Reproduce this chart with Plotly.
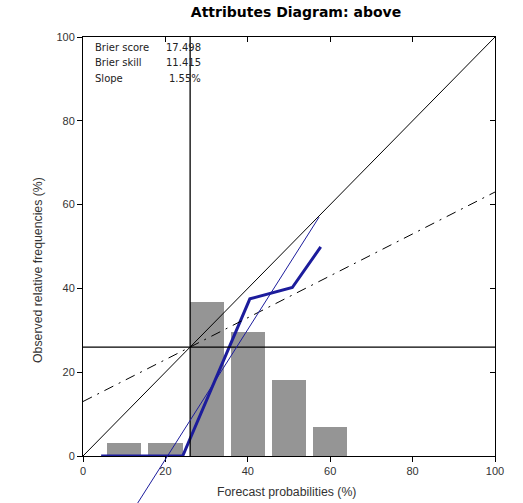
import plotly.graph_objects as go

# ---- data ----
bin_centers = [10, 20, 30, 40, 50, 60]
bin_freq = [3.1, 3.1, 36.7, 29.5, 18.2, 7.0]
rel_x = [4.4, 14.5, 24.2, 40.5, 50.8, 57.7]
rel_y = [0.0, 0.0, 0.0, 37.5, 40.2, 49.9]
climatology = 26.0
fit_slope = 1.55
fit_intercept = -31.8
fit_x = [10.0, 57.3]
stats_labels = ["Brier score", "Brier skill", "Slope"]
stats_values = ["17.498", "11.415", "1.55%"]
tick_vals = [0, 20, 40, 60, 80, 100]
tick_text = ["0", "20", "40", "60", "80", "100"]

BLUE = "#1c1c9c"
FONT = "Liberation Sans, Arial, sans-serif"
FONT2 = "DejaVu Sans, sans-serif"

W, H = 523, 503
L, R, T, B = 83, 28, 37, 47
PW, PH = W - L - R, H - T - B

fig = go.Figure()

fig.add_trace(go.Bar(x=bin_centers, y=bin_freq, width=8.3,
                     marker=dict(color="#959595", line=dict(width=0)),
                     showlegend=False, hoverinfo="skip"))

fig.add_trace(go.Scatter(x=rel_x, y=rel_y, mode="lines",
                         line=dict(color=BLUE, width=3),
                         showlegend=False))

# dummy trace for mirrored top/right axes
fig.add_trace(go.Scatter(x=[None], y=[None], xaxis="x2", yaxis="y2",
                         showlegend=False, hoverinfo="skip"))

shapes = []
shapes.append(dict(type="line", xref="x", yref="y", x0=0, y0=0, x1=100, y1=100,
                   line=dict(color="black", width=1)))
shapes.append(dict(type="line", xref="x", yref="paper", x0=climatology, x1=climatology,
                   y0=0, y1=1, line=dict(color="black", width=1.3)))
shapes.append(dict(type="line", xref="paper", yref="y", x0=0, x1=1,
                   y0=climatology, y1=climatology, line=dict(color="black", width=1.3)))
shapes.append(dict(type="line", xref="x", yref="y", x0=0, x1=100,
                   y0=(0 + climatology) / 2, y1=(100 + climatology) / 2,
                   line=dict(color="black", width=1, dash="10px,6px,2px,6px")))
fy = [fit_slope * v + fit_intercept for v in fit_x]
shapes.append(dict(type="line", xref="x", yref="paper", x0=fit_x[0], x1=fit_x[1],
                   y0=fy[0] / 100.0, y1=fy[1] / 100.0,
                   line=dict(color=BLUE, width=1)))

annotations = []
ys = [97.4, 93.8, 90.2]
for lab, val, yy in zip(stats_labels, stats_values, ys):
    annotations.append(dict(x=2.4, y=yy, xref="x", yref="y", text=lab, showarrow=False,
                            xanchor="left", yanchor="middle",
                            font=dict(family=FONT2, size=10, color="#222")))
    annotations.append(dict(x=29.2, y=yy, xref="x", yref="y", text=val, showarrow=False,
                            xanchor="right", yanchor="middle",
                            font=dict(family=FONT2, size=10, color="#222")))

# axis titles placed as annotations (pixel-tuned positions)
annotations.append(dict(text="Forecast probabilities (%)", showarrow=False,
                        xref="paper", yref="paper",
                        x=(286 - L) / PW, y=(H - B - 492) / PH,
                        xanchor="center", yanchor="middle",
                        font=dict(family=FONT, size=12.3, color="#333")))
annotations.append(dict(text="Observed relative frequencies (%)", showarrow=False,
                        xref="paper", yref="paper", textangle=-90,
                        x=(38 - L) / PW, y=(H - B - 270) / PH,
                        xanchor="center", yanchor="middle",
                        font=dict(family=FONT, size=12.3, color="#333")))

axis_common = dict(range=[0, 100], tickvals=tick_vals, ticktext=tick_text,
                   showgrid=False, zeroline=False, showline=True,
                   linecolor="black", linewidth=1, ticklen=5, tickcolor="black",
                   tickfont=dict(family=FONT, size=11, color="#333"))

fig.update_layout(
    width=W, height=H,
    margin=dict(l=L, r=R, t=T, b=B, autoexpand=False),
    plot_bgcolor="white", paper_bgcolor="white",
    title=dict(text="<b>Attributes Diagram: above</b>", x=296 / W, xref="container",
               xanchor="center", y=1 - 12 / H, yref="container", yanchor="middle",
               font=dict(family="DejaVu Sans, sans-serif", size=14, color="black")),
    xaxis=dict(**axis_common, ticks="outside"),
    yaxis=dict(**axis_common, ticks="outside"),
    xaxis2=dict(**axis_common, overlaying="x", side="top", ticks="inside",
                showticklabels=False),
    yaxis2=dict(**axis_common, overlaying="y", side="right", ticks="inside",
                showticklabels=False),
    shapes=shapes, annotations=annotations, bargap=0,
)

fig.write_html("out.html", config={"displayModeBar": False},
               post_script="document.body.style.margin='0';document.body.style.overflow='hidden';")
